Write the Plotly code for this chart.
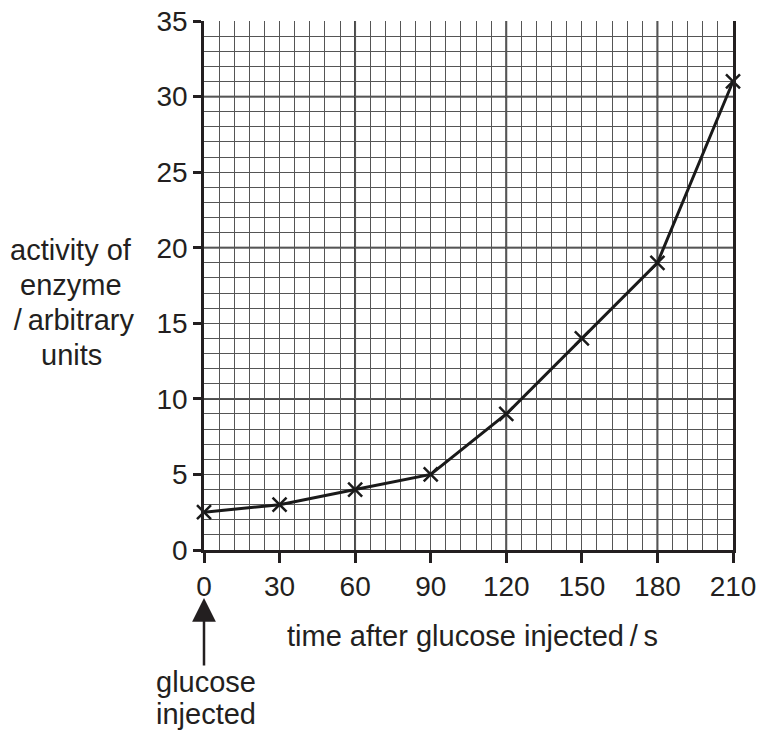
import plotly.graph_objects as go

time_s = [0, 30, 60, 90, 120, 150, 180, 210]
activity = [2.5, 3, 4, 5, 9, 14, 19, 31]

x_ticks = [0, 30, 60, 90, 120, 150, 180, 210]
y_ticks = [0, 5, 10, 15, 20, 25, 30, 35]
x_major_grid = [60, 120, 180]
y_major_grid = [10, 20, 30]

y_label_lines = ["activity of", "enzyme", "\u2009/\u2009arbitrary", "units"]
x_title = "time after glucose injected\u2009/\u2009s"
note_lines = ["glucose", "injected"]

FONT = "Liberation Sans, Arial, sans-serif"
TXT = "#231f20"

fig = go.Figure()
fig.add_trace(go.Scatter(
    x=time_s, y=activity, mode="lines+markers",
    line=dict(color="#1a1a1a", width=3),
    marker=dict(symbol="x-thin", size=14, line=dict(color="#1a1a1a", width=2.5)),
    showlegend=False, cliponaxis=False,
))

shapes = []
for v in x_major_grid:
    shapes.append(dict(type="line", xref="x", yref="y", x0=v, x1=v, y0=0, y1=35,
                       line=dict(color="#111", width=1.8), layer="below"))
for v in y_major_grid:
    shapes.append(dict(type="line", xref="x", yref="y", x0=0, x1=210, y0=v, y1=v,
                       line=dict(color="#111", width=1.8), layer="below"))

annotations = []
y_line_pos = [0.567, 0.501, 0.435, 0.369]
for txt, yp in zip(y_label_lines, y_line_pos):
    annotations.append(dict(text=txt, xref="paper", yref="paper", x=-0.2514, y=yp,
                            xanchor="center", yanchor="middle", showarrow=False,
                            font=dict(family=FONT, size=29, color=TXT)))
annotations.append(dict(text=x_title, xref="paper", yref="paper", x=0.5085, y=-0.1626,
                        xanchor="center", yanchor="middle", showarrow=False,
                        font=dict(family=FONT, size=29, color=TXT)))
for txt, yp in zip(note_lines, [-0.2495, -0.31]):
    annotations.append(dict(text=txt, xref="paper", yref="paper", x=0.0038, y=yp,
                            xanchor="center", yanchor="middle", showarrow=False,
                            font=dict(family=FONT, size=29, color=TXT)))
annotations.append(dict(text="", xref="x", yref="paper", x=0, y=-0.0907,
                        ax=0, ay=69, showarrow=True, arrowhead=2, arrowsize=1.9,
                        arrowwidth=2.5, arrowcolor=TXT, standoff=0))

fig.update_layout(
    width=759, height=730,
    margin=dict(l=204, r=26, t=21, b=180, autoexpand=False),
    paper_bgcolor="white", plot_bgcolor="white",
    font=dict(family=FONT, color=TXT),
    shapes=shapes, annotations=annotations,
    xaxis=dict(
        range=[0, 210], tickvals=x_ticks, ticktext=[str(v) for v in x_ticks],
        ticks="outside", ticklen=10, tickwidth=2.5, tickcolor=TXT,
        showline=True, linewidth=2.5, linecolor=TXT, mirror=False,
        showgrid=True, gridcolor="#555", gridwidth=1,
        minor=dict(dtick=6, tick0=0, showgrid=True, gridcolor="#555", gridwidth=1, ticks=""),
        tickfont=dict(family=FONT, size=28, color=TXT),
        zeroline=False, fixedrange=True, automargin=False, ticklabeloverflow="allow",
    ),
    yaxis=dict(
        range=[0, 35], tickvals=y_ticks, ticktext=[str(v) for v in y_ticks],
        ticks="outside", ticklen=8, tickwidth=2.5, tickcolor=TXT,
        showline=True, linewidth=2.5, linecolor=TXT, mirror=True,
        showgrid=True, gridcolor="#555", gridwidth=1,
        minor=dict(dtick=1, tick0=0, showgrid=True, gridcolor="#555", gridwidth=1, ticks=""),
        tickfont=dict(family=FONT, size=28, color=TXT),
        zeroline=False, fixedrange=True, automargin=False, ticklabeloverflow="allow",
    ),
)

fig.write_html("out.html", config={"displayModeBar": False},
               post_script="document.body.style.margin='0';document.body.style.overflow='hidden';")
